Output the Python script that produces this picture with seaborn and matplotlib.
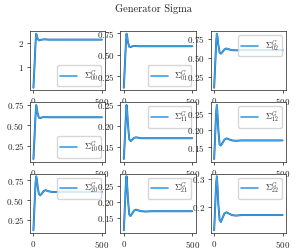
import matplotlib
matplotlib.use("Agg")
import matplotlib.pyplot as plt
from matplotlib.lines import Line2D
import pandas as pd
import seaborn as sns

# Training steps and the 3x3 entries of the generator sigma
steps = [0, 5, 10, 15, 20, 25, 30, 40, 50, 60, 75, 90, 110, 130, 160, 200, 300, 500]

sigma_00 = [0.12, 0.70, 1.30, 1.95, 2.40, 2.33, 2.20, 2.12, 2.13, 2.15, 2.16, 2.16, 2.15, 2.15, 2.15, 2.15, 2.15, 2.15]
sigma_01 = [0.12, 0.28, 0.45, 0.62, 0.745, 0.71, 0.65, 0.595, 0.59, 0.598, 0.603, 0.602, 0.60, 0.60, 0.60, 0.60, 0.60, 0.60]
sigma_02 = [0.11, 0.30, 0.50, 0.70, 0.815, 0.77, 0.68, 0.57, 0.555, 0.575, 0.61, 0.622, 0.61, 0.60, 0.598, 0.60, 0.60, 0.60]
sigma_10 = [0.09, 0.26, 0.43, 0.61, 0.75, 0.71, 0.65, 0.595, 0.59, 0.597, 0.602, 0.602, 0.60, 0.60, 0.60, 0.60, 0.60, 0.60]
sigma_11 = [0.12, 0.15, 0.185, 0.22, 0.25, 0.235, 0.205, 0.168, 0.163, 0.166, 0.171, 0.172, 0.171, 0.170, 0.170, 0.170, 0.170, 0.170]
sigma_12 = [0.115, 0.16, 0.21, 0.255, 0.275, 0.245, 0.205, 0.158, 0.155, 0.162, 0.172, 0.176, 0.173, 0.170, 0.169, 0.170, 0.170, 0.170]
sigma_20 = [0.12, 0.32, 0.52, 0.70, 0.80, 0.76, 0.68, 0.575, 0.56, 0.58, 0.615, 0.625, 0.612, 0.604, 0.602, 0.605, 0.605, 0.605]
sigma_21 = [0.11, 0.155, 0.205, 0.255, 0.28, 0.25, 0.21, 0.16, 0.155, 0.162, 0.172, 0.175, 0.172, 0.170, 0.169, 0.170, 0.170, 0.170]
sigma_22 = [0.115, 0.17, 0.23, 0.285, 0.31, 0.27, 0.215, 0.152, 0.145, 0.158, 0.175, 0.18, 0.175, 0.170, 0.168, 0.170, 0.170, 0.170]

series = [sigma_00, sigma_01, sigma_02,
          sigma_10, sigma_11, sigma_12,
          sigma_20, sigma_21, sigma_22]
labels = [r"$\Sigma^G_{00}$", r"$\Sigma^G_{01}$", r"$\Sigma^G_{02}$",
          r"$\Sigma^G_{10}$", r"$\Sigma^G_{11}$", r"$\Sigma^G_{12}$",
          r"$\Sigma^G_{20}$", r"$\Sigma^G_{21}$", r"$\Sigma^G_{22}$"]
legend_locs = ["lower right", "lower right", "upper right",
               "lower right", "upper right", "upper right",
               "upper right", "upper right", "upper right"]

sns.set_theme(style="ticks")
plt.rcParams["font.family"] = "cmr10"
plt.rcParams["mathtext.fontset"] = "cm"
plt.rcParams["axes.formatter.use_mathtext"] = True
plt.rcParams["axes.unicode_minus"] = False

fig, axes = plt.subplots(3, 3, figsize=(2.95, 2.49), dpi=100)
fig.subplots_adjust(left=0.1017, right=0.9695, bottom=0.0643, top=0.8755,
                    wspace=0.2, hspace=0.2)

light_blue = "#3d9fe6"
for ax, vals, lab, loc in zip(axes.flat, series, labels, legend_locs):
    df = pd.DataFrame({"step": steps, "value": vals})
    sns.lineplot(data=df, x="step", y="value", ax=ax, color="#1f6fb4", linewidth=1.4)
    sns.lineplot(data=df, x="step", y="value", ax=ax, color=light_blue, linewidth=0.9)
    ax.set_xlabel("")
    ax.set_ylabel("")
    ax.tick_params(labelsize=6.5, length=2.3, width=0.55, pad=2)
    for sp in ax.spines.values():
        sp.set_linewidth(0.55)
        sp.set_color("#333333")
    handle = Line2D([], [], color=light_blue, linewidth=1.2)
    ax.legend(handles=[handle], labels=[lab], loc=loc, fontsize=6,
              borderpad=0.4, handlelength=2.0)

fig.suptitle("Generator Sigma", fontsize=7.5, x=0.52, y=0.985)
fig.savefig("out.png", dpi=100)
